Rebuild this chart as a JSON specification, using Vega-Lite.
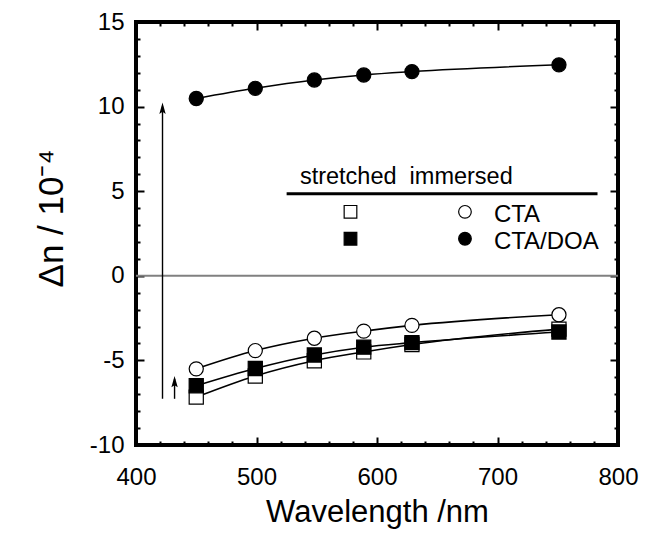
{
  "$schema": "https://vega.github.io/schema/vega-lite/v6.json",
  "width": 482,
  "height": 423,
  "autosize": "none",
  "padding": {"left": 136, "top": 22, "right": 27, "bottom": 88},
  "background": "white",
  "config": {
    "view": {"stroke": "black", "strokeWidth": 4},
    "font": "Liberation Sans",
    "axis": {"domain": false, "grid": false, "tickColor": "black", "tickWidth": 2, "labelColor": "black", "titleColor": "black", "labelFont": "Liberation Sans", "titleFont": "Liberation Sans", "labelFontSize": 24, "titleFontSize": 31, "titleFontWeight": "normal", "labelFlush": false, "labelOverlap": false}
  },
  "datasets": {
    "series": [
      {"wavelength": 450, "dn": 10.48, "series": "CTA/DOA immersed"},
      {"wavelength": 499, "dn": 11.08, "series": "CTA/DOA immersed"},
      {"wavelength": 548, "dn": 11.57, "series": "CTA/DOA immersed"},
      {"wavelength": 589, "dn": 11.87, "series": "CTA/DOA immersed"},
      {"wavelength": 629, "dn": 12.07, "series": "CTA/DOA immersed"},
      {"wavelength": 751, "dn": 12.47, "series": "CTA/DOA immersed"},
      {"wavelength": 450, "dn": -5.5, "series": "CTA immersed"},
      {"wavelength": 499, "dn": -4.42, "series": "CTA immersed"},
      {"wavelength": 548, "dn": -3.69, "series": "CTA immersed"},
      {"wavelength": 589, "dn": -3.27, "series": "CTA immersed"},
      {"wavelength": 629, "dn": -2.93, "series": "CTA immersed"},
      {"wavelength": 751, "dn": -2.3, "series": "CTA immersed"},
      {"wavelength": 450, "dn": -7.17, "series": "CTA stretched"},
      {"wavelength": 499, "dn": -5.92, "series": "CTA stretched"},
      {"wavelength": 548, "dn": -5.02, "series": "CTA stretched"},
      {"wavelength": 589, "dn": -4.5, "series": "CTA stretched"},
      {"wavelength": 629, "dn": -4.06, "series": "CTA stretched"},
      {"wavelength": 751, "dn": -3.15, "series": "CTA stretched"},
      {"wavelength": 450, "dn": -6.5, "series": "CTA/DOA stretched"},
      {"wavelength": 499, "dn": -5.48, "series": "CTA/DOA stretched"},
      {"wavelength": 548, "dn": -4.68, "series": "CTA/DOA stretched"},
      {"wavelength": 589, "dn": -4.22, "series": "CTA/DOA stretched"},
      {"wavelength": 629, "dn": -3.95, "series": "CTA/DOA stretched"},
      {"wavelength": 751, "dn": -3.32, "series": "CTA/DOA stretched"}
    ],
    "legendSymbols": [
      {"wavelength": 578, "dn": 3.78, "series": "CTA stretched"},
      {"wavelength": 578, "dn": 2.19, "series": "CTA/DOA stretched"},
      {"wavelength": 673, "dn": 3.78, "series": "CTA immersed"},
      {"wavelength": 673, "dn": 2.19, "series": "CTA/DOA immersed"}
    ]
  },
  "encoding": {
    "x": {"type": "quantitative", "scale": {"domain": [400, 800], "nice": false, "zero": false}},
    "y": {"type": "quantitative", "scale": {"domain": [-10, 15], "nice": false, "zero": false}}
  },
  "resolve": {"axis": {"x": "independent", "y": "independent"}},
  "layer": [
    {
      "data": {"values": [{"dn": 0}]},
      "mark": {"type": "rule", "color": "#808080", "strokeWidth": 2},
      "encoding": {
        "y": {"field": "dn", "type": "quantitative", "axis": {"orient": "left", "values": [-10, -5, 0, 5, 10, 15], "tickSize": -8, "labelPadding": 20, "labelExpr": "datum.value < 0 ? '-' + abs(datum.value) : '' + datum.value", "title": "Δn / 10⁻⁴", "titleFontSize": 35, "titlePadding": 20, "titleY": 196}},
        "x": {"datum": 400, "type": "quantitative", "axis": {"orient": "bottom", "values": [400, 500, 600, 700, 800], "tickSize": -8, "labelPadding": 28, "title": "Wavelength /nm", "titlePadding": 8}},
        "x2": {"datum": 800}
      }
    },
    {
      "data": {"name": "series"},
      "mark": {"type": "line", "interpolate": "monotone", "color": "black", "strokeWidth": 1.6},
      "encoding": {
        "x": {"field": "wavelength", "type": "quantitative", "axis": {"orient": "bottom", "values": [420, 440, 460, 480, 520, 540, 560, 580, 620, 640, 660, 680, 720, 740, 760, 780], "tickSize": -4, "labels": false, "title": null}},
        "y": {"field": "dn", "type": "quantitative", "axis": {"orient": "left", "values": [-9, -8, -7, -6, -4, -3, -2, -1, 1, 2, 3, 4, 6, 7, 8, 9, 11, 12, 13, 14], "tickSize": -4, "labels": false, "title": null}},
        "detail": {"field": "series"}
      }
    },
    {
      "data": {"name": "series"},
      "mark": {"type": "point", "stroke": "black", "strokeWidth": 1.2, "opacity": 1},
      "encoding": {
        "x": {"field": "wavelength", "type": "quantitative", "axis": {"orient": "top", "values": [400, 500, 600, 700, 800], "tickSize": -8, "labels": false, "title": null}},
        "y": {"field": "dn", "type": "quantitative", "axis": {"orient": "right", "values": [-10, -5, 0, 5, 10, 15], "tickSize": -8, "labels": false, "title": null}},
        "shape": {"field": "series", "type": "nominal", "scale": {"domain": ["CTA stretched", "CTA/DOA stretched", "CTA immersed", "CTA/DOA immersed"], "range": ["square", "square", "circle", "circle"]}, "legend": null},
        "fill": {"field": "series", "type": "nominal", "scale": {"domain": ["CTA stretched", "CTA/DOA stretched", "CTA immersed", "CTA/DOA immersed"], "range": ["white", "black", "white", "black"]}, "legend": null},
        "size": {"field": "series", "type": "nominal", "scale": {"domain": ["CTA stretched", "CTA/DOA stretched", "CTA immersed", "CTA/DOA immersed"], "range": [200, 200, 165, 165]}, "legend": null}
      }
    },
    {
      "data": {"values": [
        {"wavelength": 422, "y1": -7.27, "y2": 10.0},
        {"wavelength": 432, "y1": -7.27, "y2": -6.1}
      ]},
      "mark": {"type": "rule", "color": "black", "strokeWidth": 1.4},
      "encoding": {
        "x": {"field": "wavelength", "type": "quantitative", "axis": {"orient": "top", "values": [420, 440, 460, 480, 520, 540, 560, 580, 620, 640, 660, 680, 720, 740, 760, 780], "tickSize": -4, "labels": false, "title": null}},
        "y": {"field": "y1", "type": "quantitative", "axis": {"orient": "right", "values": [-9, -8, -7, -6, -4, -3, -2, -1, 1, 2, 3, 4, 6, 7, 8, 9, 11, 12, 13, 14], "tickSize": -4, "labels": false, "title": null}},
        "y2": {"field": "y2"}
      }
    },
    {
      "data": {"values": [
        {"wavelength": 422, "dn": 9.82},
        {"wavelength": 432, "dn": -6.34}
      ]},
      "mark": {"type": "point", "filled": true, "color": "black", "opacity": 1, "shape": "M0,-1L-0.45,0.6L0,0.3L0.45,0.6Z", "size": 200},
      "encoding": {
        "x": {"field": "wavelength", "type": "quantitative", "axis": null},
        "y": {"field": "dn", "type": "quantitative", "axis": null}
      }
    },
    {
      "data": {"values": [{"x1": 525, "x2": 783, "dn": 4.85}]},
      "mark": {"type": "rule", "color": "black", "strokeWidth": 3},
      "encoding": {
        "x": {"field": "x1", "type": "quantitative", "axis": null},
        "x2": {"field": "x2"},
        "y": {"field": "dn", "type": "quantitative", "axis": null}
      }
    },
    {
      "data": {"values": [
        {"wavelength": 536, "dn": 5.44, "label": "stretched\u00a0\u00a0immersed"}
      ]},
      "mark": {"type": "text", "align": "left", "baseline": "alphabetic", "font": "Liberation Sans", "fontSize": 23.5, "color": "black"},
      "encoding": {
        "x": {"field": "wavelength", "type": "quantitative", "axis": null},
        "y": {"field": "dn", "type": "quantitative", "axis": null},
        "text": {"field": "label"}
      }
    },
    {
      "data": {"values": [
        {"wavelength": 697, "dn": 3.19, "label": "CTA"},
        {"wavelength": 697, "dn": 1.6, "label": "CTA/DOA"}
      ]},
      "mark": {"type": "text", "align": "left", "baseline": "alphabetic", "font": "Liberation Sans", "fontSize": 24, "color": "black"},
      "encoding": {
        "x": {"field": "wavelength", "type": "quantitative", "axis": null},
        "y": {"field": "dn", "type": "quantitative", "axis": null},
        "text": {"field": "label"}
      }
    },
    {
      "data": {"name": "legendSymbols"},
      "mark": {"type": "point", "stroke": "black", "strokeWidth": 1.2, "opacity": 1},
      "encoding": {
        "x": {"field": "wavelength", "type": "quantitative", "axis": null},
        "y": {"field": "dn", "type": "quantitative", "axis": null},
        "shape": {"field": "series", "type": "nominal", "legend": null},
        "fill": {"field": "series", "type": "nominal", "legend": null},
        "size": {"value": 160}
      }
    }
  ]
}
